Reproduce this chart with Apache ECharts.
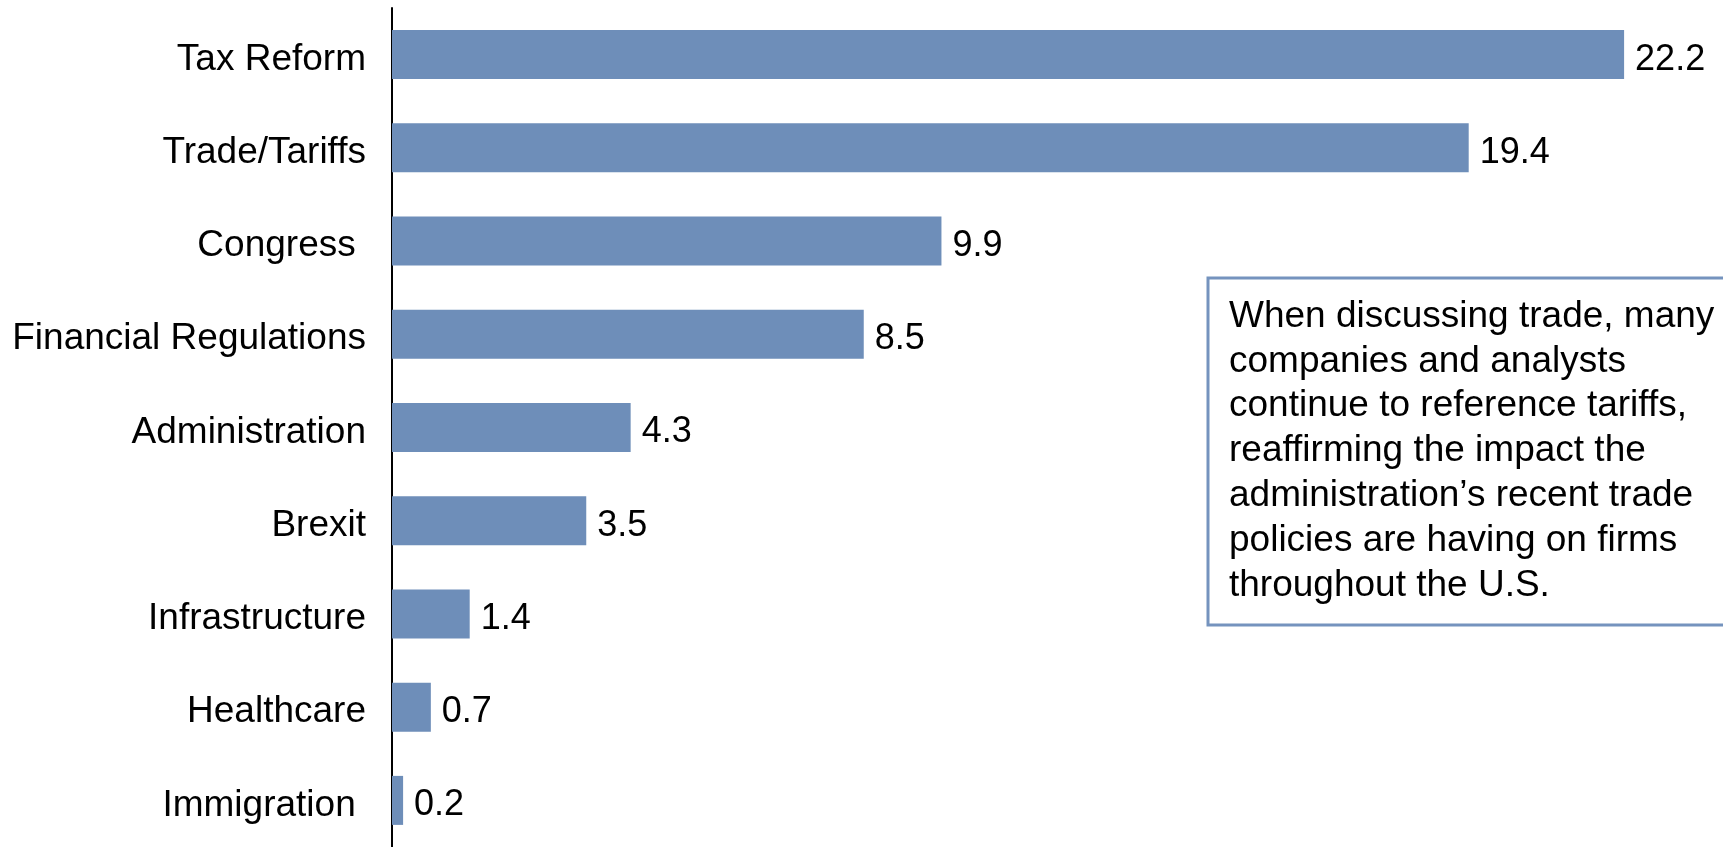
<!DOCTYPE html>
<html>
<head>
<meta charset="utf-8">
<script src="https://cdn.jsdelivr.net/npm/echarts@6/dist/echarts.min.js"></script>
<style>
  html, body { margin: 0; padding: 0; background: #fff; }
  #main { width: 1723px; height: 847px; }
</style>
</head>
<body>
<div id="main"></div>
<script>
var categories = ['Tax Reform', 'Trade/Tariffs', 'Congress ', 'Financial Regulations', 'Administration',
    'Brexit', 'Infrastructure', 'Healthcare', 'Immigration '];
var values = [22.2, 19.4, 9.9, 8.5, 4.3, 3.5, 1.4, 0.7, 0.2];
var noteLines = [
    'When discussing trade, many',
    'companies and analysts',
    'continue to reference tariffs,',
    'reaffirming the impact the',
    'administration\u2019s recent trade',
    'policies are having on firms',
    'throughout the U.S.'
];

var FONT = '"Liberation Sans", Arial, sans-serif';
var chart = echarts.init(document.getElementById('main'));

var option = {
    animation: false,
    backgroundColor: '#fff',
    grid: {
        left: 392,
        top: 8,
        width: 23 * 55.5,
        height: 843
    },
    xAxis: {
        type: 'value',
        min: 0,
        max: 23,
        show: false
    },
    yAxis: {
        type: 'category',
        data: categories,
        inverse: true,
        axisLine: { show: true, lineStyle: { color: '#000', width: 2 } },
        axisTick: { show: false },
        axisLabel: {
            margin: 26,
            formatter: '{a|{value}}',
            rich: {
                a: {
                    fontSize: 37,
                    color: '#000',
                    fontFamily: FONT,
                    padding: [10, 0, 0, 0]
                }
            }
        }
    },
    series: [{
        type: 'bar',
        data: values,
        barWidth: 49,
        itemStyle: { color: '#6e8eb9' },
        label: {
            show: true,
            position: 'right',
            distance: 11,
            offset: [0, 5],
            fontSize: 36,
            color: '#000',
            fontFamily: FONT
        }
    }],
    graphic: [{
        type: 'rect',
        shape: { x: 1208, y: 278, width: 600, height: 347 },
        style: { fill: '#fff', stroke: '#7593be', lineWidth: 3 }
    }, {
        type: 'text',
        x: 1229,
        y: 451,
        style: {
            text: noteLines.join('\n'),
            fontSize: 37,
            lineHeight: 44.8,
            fontFamily: FONT,
            fill: '#000',
            verticalAlign: 'middle',
            align: 'left'
        }
    }]
};

chart.setOption(option);
</script>
</body>
</html>
